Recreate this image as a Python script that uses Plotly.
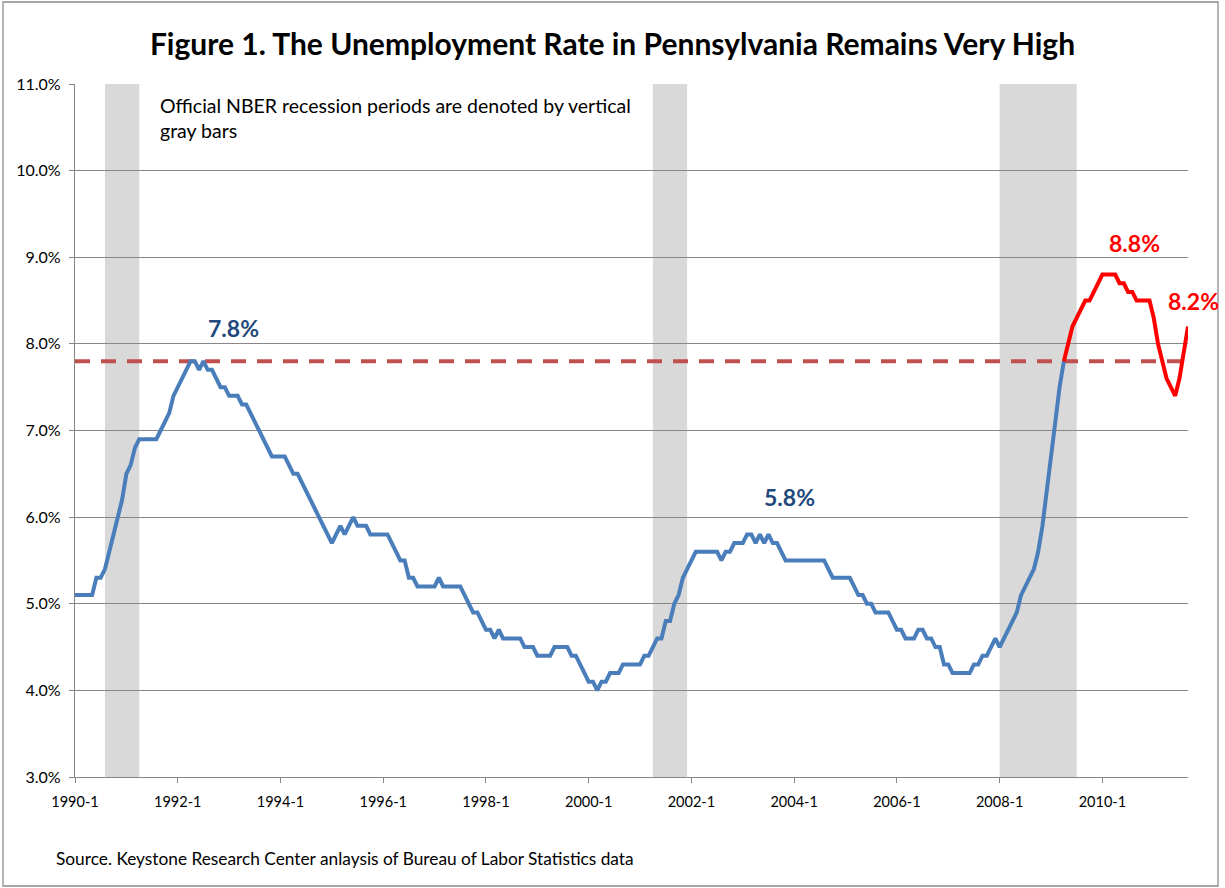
import plotly.graph_objects as go
import pandas as pd

# ---------------- data ----------------
months = [f"{p.year}-{p.month}" for p in pd.period_range("1990-01", "2011-09", freq="M")]

blue_rate = [
    5.1, 5.1, 5.1, 5.1, 5.1, 5.3, 5.3, 5.4, 5.6, 5.8, 6.0, 6.2,          # 1990
    6.5, 6.6, 6.8, 6.9, 6.9, 6.9, 6.9, 6.9, 7.0, 7.1, 7.2, 7.4,          # 1991
    7.5, 7.6, 7.7, 7.8, 7.8, 7.7, 7.8, 7.7, 7.7, 7.6, 7.5, 7.5,          # 1992
    7.4, 7.4, 7.4, 7.3, 7.3, 7.2, 7.1, 7.0, 6.9, 6.8, 6.7, 6.7,          # 1993
    6.7, 6.7, 6.6, 6.5, 6.5, 6.4, 6.3, 6.2, 6.1, 6.0, 5.9, 5.8,          # 1994
    5.7, 5.8, 5.9, 5.8, 5.9, 6.0, 5.9, 5.9, 5.9, 5.8, 5.8, 5.8,          # 1995
    5.8, 5.8, 5.7, 5.6, 5.5, 5.5, 5.3, 5.3, 5.2, 5.2, 5.2, 5.2,          # 1996
    5.2, 5.3, 5.2, 5.2, 5.2, 5.2, 5.2, 5.1, 5.0, 4.9, 4.9, 4.8,          # 1997
    4.7, 4.7, 4.6, 4.7, 4.6, 4.6, 4.6, 4.6, 4.6, 4.5, 4.5, 4.5,          # 1998
    4.4, 4.4, 4.4, 4.4, 4.5, 4.5, 4.5, 4.5, 4.4, 4.4, 4.3, 4.2,          # 1999
    4.1, 4.1, 4.0, 4.1, 4.1, 4.2, 4.2, 4.2, 4.3, 4.3, 4.3, 4.3,          # 2000
    4.3, 4.4, 4.4, 4.5, 4.6, 4.6, 4.8, 4.8, 5.0, 5.1, 5.3, 5.4,          # 2001
    5.5, 5.6, 5.6, 5.6, 5.6, 5.6, 5.6, 5.5, 5.6, 5.6, 5.7, 5.7,          # 2002
    5.7, 5.8, 5.8, 5.7, 5.8, 5.7, 5.8, 5.7, 5.7, 5.6, 5.5, 5.5,          # 2003
    5.5, 5.5, 5.5, 5.5, 5.5, 5.5, 5.5, 5.5, 5.4, 5.3, 5.3, 5.3,          # 2004
    5.3, 5.3, 5.2, 5.1, 5.1, 5.0, 5.0, 4.9, 4.9, 4.9, 4.9, 4.8,          # 2005
    4.7, 4.7, 4.6, 4.6, 4.6, 4.7, 4.7, 4.6, 4.6, 4.5, 4.5, 4.3,          # 2006
    4.3, 4.2, 4.2, 4.2, 4.2, 4.2, 4.3, 4.3, 4.4, 4.4, 4.5, 4.6,          # 2007
    4.5, 4.6, 4.7, 4.8, 4.9, 5.1, 5.2, 5.3, 5.4, 5.6, 5.9, 6.3,          # 2008
    6.7, 7.1, 7.5, 7.8,                                                  # 2009-1 .. 2009-4
]

red_rate = [
    7.8, 8.0, 8.2, 8.3, 8.4, 8.5, 8.5, 8.6, 8.7,                         # 2009-4 .. 2009-12
    8.8, 8.8, 8.8, 8.8, 8.7, 8.7, 8.6, 8.6, 8.5, 8.5, 8.5, 8.5,          # 2010
    8.3, 8.0, 7.8, 7.6, 7.5, 7.4, 7.6, 7.9, 8.2,                         # 2011-1 .. 2011-9
]

blue_months = months[:len(blue_rate)]
red_months = months[len(blue_rate) - 1:len(blue_rate) - 1 + len(red_rate)]

recession_start = ["1990-8", "2001-4", "2008-1"]
recession_end = ["1991-4", "2001-12", "2009-7"]

reference_level = 7.8
tick_labels = months[::24]

# ---------------- figure ----------------
FONT = "Lato, Calibri, 'Open Sans', sans-serif"
W, H = 1225, 888
ML, MR, MT, MB = 75, 37, 84, 111
PW, PH = W - ML - MR, H - MT - MB


def px2paper_x(px):
    return (px - ML) / PW


def px2paper_y(py):
    return (H - MB - py) / PH


fig = go.Figure()

idx = {m: i for i, m in enumerate(months)}

shapes = []
for s, e in zip(recession_start, recession_end):
    shapes.append(dict(type="rect", xref="x", yref="paper", x0=idx[s], x1=idx[e],
                       y0=0, y1=1, fillcolor="#D9D9D9", line=dict(width=0), layer="between"))

# outer chart border
shapes.append(dict(type="rect", xref="paper", yref="paper",
                   x0=px2paper_x(3), x1=px2paper_x(1218), y0=px2paper_y(886), y1=px2paper_y(2),
                   line=dict(color="#8C8C8C", width=1.3), fillcolor="rgba(0,0,0,0)", layer="above"))

fig.add_trace(go.Scatter(x=[months[0], months[-1]], y=[reference_level, reference_level],
                         mode="lines", line=dict(color="#C0504D", width=4, dash="15px,11px"),
                         hoverinfo="skip", showlegend=False))
fig.add_trace(go.Scatter(x=blue_months, y=blue_rate, mode="lines",
                         line=dict(color="#4A7EBB", width=4), showlegend=False))
fig.add_trace(go.Scatter(x=red_months, y=red_rate, mode="lines",
                         line=dict(color="#FF0000", width=4), showlegend=False))

LABEL_FONT = 23
annotations = [
    dict(xref="x", yref="y", x=37, y=8.18, text="<b>7.8%</b>",
         font=dict(size=LABEL_FONT, color="#1F497D", family=FONT)),
    dict(xref="x", yref="y", x=167, y=6.23, text="<b>5.8%</b>",
         font=dict(size=LABEL_FONT, color="#1F497D", family=FONT)),
    dict(xref="x", yref="y", x=247.5, y=9.17, text="<b>8.8%</b>",
         font=dict(size=LABEL_FONT, color="#FF0000", family=FONT)),
    dict(xref="paper", yref="y", x=px2paper_x(1193), y=8.5, text="<b>8.2%</b>",
         font=dict(size=LABEL_FONT, color="#FF0000", family=FONT)),
]
for a in annotations:
    a.update(showarrow=False, xanchor="center", yanchor="middle")

annotations.append(dict(
    xref="paper", yref="paper", x=px2paper_x(158), y=px2paper_y(92),
    xanchor="left", yanchor="top", align="left", showarrow=False,
    text="Official NBER recession periods are denoted by vertical<br>gray bars",
    font=dict(size=19.5, color="#000000", family=FONT)))
annotations.append(dict(
    xref="paper", yref="paper", x=px2paper_x(54), y=px2paper_y(858),
    xanchor="left", yanchor="middle", align="left", showarrow=False,
    text="Source. Keystone Research Center anlaysis of Bureau of Labor Statistics data",
    font=dict(size=17.3, color="#000000", family=FONT)))

fig.update_layout(
    width=W, height=H,
    margin=dict(l=ML, r=MR, t=MT, b=MB, autoexpand=False),
    paper_bgcolor="white", plot_bgcolor="white",
    font=dict(family=FONT, color="#000000"),
    title=dict(text="<b>Figure 1. The Unemployment Rate in Pennsylvania Remains Very High</b>",
               x=0.5, xanchor="center", y=1 - 44 / H, yanchor="middle",
               font=dict(size=30, family=FONT, color="#000000")),
    xaxis=dict(type="category", categoryorder="array", categoryarray=months,
               range=[0, len(months) - 1], tickmode="array",
               tickvals=tick_labels, ticktext=tick_labels,
               showgrid=False, showline=True, linecolor="#868686", linewidth=1.3,
               ticks="outside", ticklen=5, tickcolor="#868686", ticklabelstandoff=6,
               tickfont=dict(size=14.5, family=FONT), zeroline=False),
    yaxis=dict(range=[3, 11], dtick=1, tick0=3, tickformat=".1f", ticksuffix="%",
               showgrid=True, gridcolor="#878787", gridwidth=1,
               showline=True, linecolor="#868686", linewidth=1.3,
               ticks="outside", ticklen=5, tickcolor="#868686", ticklabelstandoff=5,
               tickfont=dict(size=16, family=FONT), zeroline=False),
    shapes=shapes,
    annotations=annotations,
)

fig.write_html("out.html", config={"displayModeBar": False},
               post_script="document.body.style.margin='0';")
